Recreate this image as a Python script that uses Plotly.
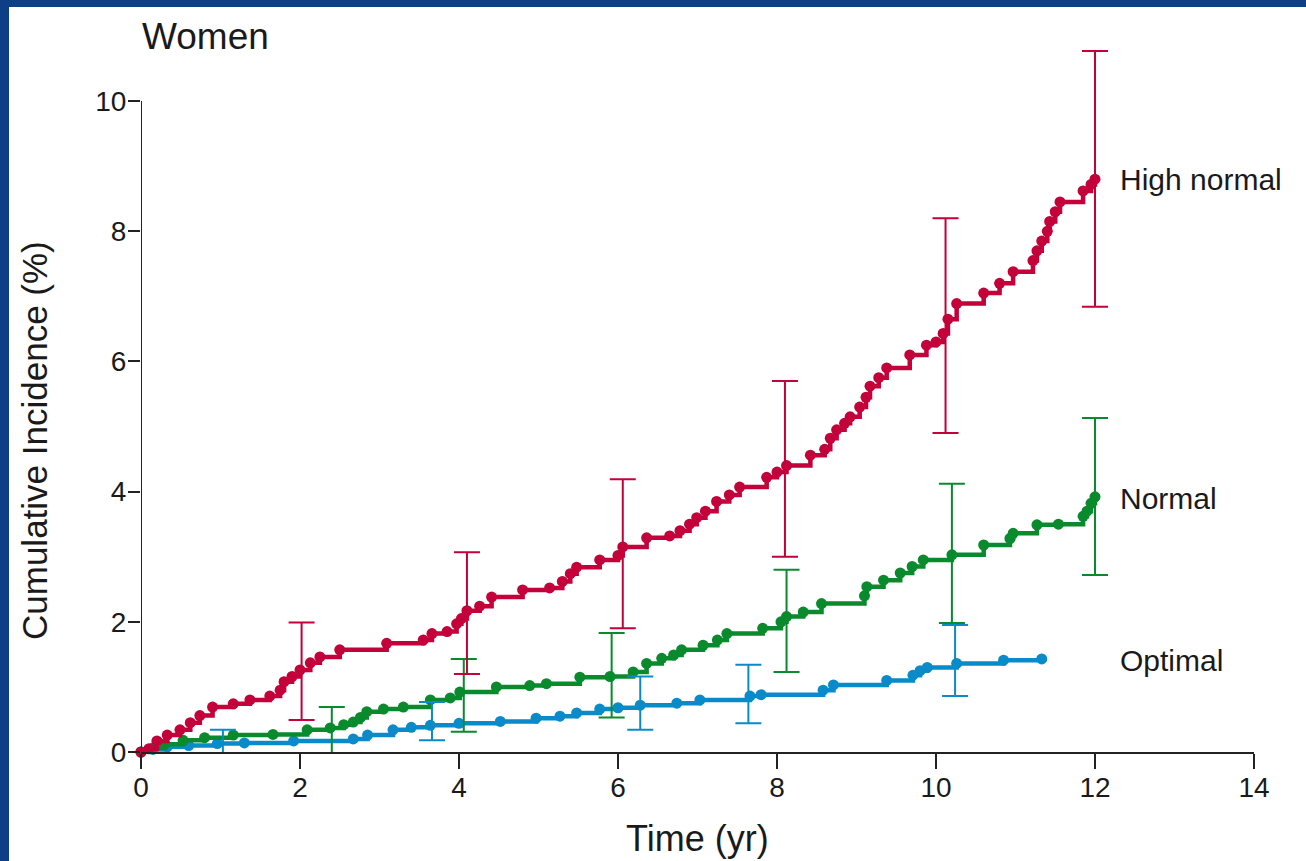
import plotly.graph_objects as go

# ---------------- data ----------------
x_ticks = [0, 2, 4, 6, 8, 10, 12, 14]
y_ticks = [0, 2, 4, 6, 8, 10]

hn_t = [0, 0.10, 0.20, 0.33, 0.49, 0.62, 0.74, 0.90, 1.16, 1.37,
        1.62, 1.75, 1.80, 1.90, 2.00, 2.13, 2.25, 2.50, 3.09, 3.55,
        3.66, 3.85, 3.97, 4.03, 4.10, 4.26, 4.41, 4.80, 5.14, 5.30,
        5.40, 5.48, 5.77, 6.00, 6.06, 6.36, 6.65, 6.78, 6.90, 6.99,
        7.10, 7.24, 7.40, 7.53, 7.87, 8.00, 8.12, 8.42, 8.60, 8.67,
        8.75, 8.85, 8.92, 9.04, 9.12, 9.17, 9.28, 9.38, 9.67, 9.88,
        10.00, 10.09, 10.15, 10.26, 10.60, 10.80, 10.97, 11.22, 11.27, 11.33,
        11.40, 11.43, 11.50, 11.56, 11.85, 11.95, 12.00]
hn_v = [0, 0.05, 0.17, 0.26, 0.34, 0.45, 0.56, 0.69, 0.74, 0.80,
        0.86, 0.95, 1.08, 1.16, 1.26, 1.37, 1.46, 1.57, 1.67, 1.72,
        1.82, 1.85, 1.97, 2.05, 2.17, 2.24, 2.38, 2.49, 2.52, 2.62,
        2.74, 2.84, 2.95, 3.02, 3.15, 3.29, 3.32, 3.40, 3.50, 3.60,
        3.70, 3.85, 3.95, 4.07, 4.22, 4.30, 4.40, 4.56, 4.65, 4.82,
        4.95, 5.05, 5.15, 5.30, 5.45, 5.62, 5.75, 5.90, 6.10, 6.25,
        6.30, 6.43, 6.65, 6.89, 7.05, 7.20, 7.38, 7.55, 7.70, 7.85,
        8.00, 8.15, 8.30, 8.45, 8.62, 8.72, 8.80]

nm_t = [0, 0.15, 0.30, 0.53, 0.80, 1.16, 1.66, 2.09, 2.38, 2.55,
        2.67, 2.76, 2.84, 3.05, 3.30, 3.64, 3.89, 4.01, 4.47, 4.89,
        5.10, 5.52, 5.90, 6.19, 6.36, 6.55, 6.70, 6.80, 7.07, 7.25,
        7.37, 7.82, 8.05, 8.12, 8.33, 8.56, 9.10, 9.13, 9.34, 9.55,
        9.70, 9.84, 10.20, 10.60, 10.93, 10.97, 11.27, 11.54, 11.85, 11.90,
        11.95, 12.00]
nm_v = [0, 0.06, 0.12, 0.18, 0.22, 0.26, 0.27, 0.34, 0.37, 0.42,
        0.46, 0.53, 0.62, 0.66, 0.69, 0.80, 0.83, 0.92, 1.00, 1.02,
        1.05, 1.15, 1.16, 1.23, 1.36, 1.44, 1.49, 1.57, 1.64, 1.72,
        1.82, 1.90, 2.00, 2.08, 2.15, 2.28, 2.40, 2.54, 2.64, 2.75,
        2.85, 2.95, 3.03, 3.18, 3.28, 3.36, 3.49, 3.50, 3.62, 3.70,
        3.82, 3.92]

op_t = [0, 0.15, 0.33, 0.60, 0.96, 1.30, 1.92, 2.67, 2.85, 3.17,
        3.40, 3.64, 4.00, 4.52, 4.97, 5.27, 5.48, 5.77, 6.00, 6.28,
        6.74, 7.03, 7.66, 7.80, 8.58, 8.71, 9.38, 9.71, 9.80, 9.89,
        10.26, 10.85, 11.33]
op_v = [0, 0.04, 0.08, 0.10, 0.13, 0.14, 0.17, 0.20, 0.26, 0.34,
        0.38, 0.41, 0.44, 0.47, 0.52, 0.55, 0.60, 0.66, 0.68, 0.72,
        0.75, 0.80, 0.86, 0.88, 0.95, 1.03, 1.10, 1.18, 1.25, 1.30,
        1.36, 1.41, 1.43]

# 95% confidence intervals
hn_ci_t = [2.02, 4.10, 6.06, 8.10, 10.12, 12.00]
hn_ci_lo = [0.49, 1.20, 1.90, 3.00, 4.90, 6.84]
hn_ci_hi = [1.99, 3.07, 4.19, 5.70, 8.20, 10.77]

nm_ci_t = [2.40, 4.06, 5.92, 8.12, 10.20, 12.00]
nm_ci_lo = [-0.10, 0.31, 0.53, 1.23, 1.98, 2.72]
nm_ci_hi = [0.69, 1.43, 1.83, 2.80, 4.12, 5.13]

op_ci_t = [1.03, 3.66, 6.28, 7.64, 10.24]
op_ci_lo = [-0.10, 0.18, 0.34, 0.44, 0.86]
op_ci_hi = [0.34, 0.77, 1.16, 1.34, 1.95]

series_names = ["High normal", "Normal", "Optimal"]
label_y = [8.79, 3.90, 1.40]

# ---------------- styling ----------------
RED = "#C3003A"
GREEN = "#088A2D"
BLUE = "#0A8BC9"
TXT = "#1a1a1a"
AX = "#222222"
FONT = "Liberation Sans, Arial, Helvetica, sans-serif"

W, H = 1306, 861
ML, MR, MT, MB = 141, 52, 36, 109
PW = W - ML - MR
PH = H - MT - MB


def px_x(p):
    return (p - ML) / PW


def px_y(p):
    return (H - MB - p) / PH


fig = go.Figure()

curves = [(op_t, op_v, BLUE), (nm_t, nm_v, GREEN), (hn_t, hn_v, RED)]
for t, v, c in curves:
    fig.add_trace(go.Scatter(
        x=t, y=v, mode="lines+markers",
        line=dict(shape="hv", width=4.5, color=c),
        marker=dict(size=11, color=c),
        cliponaxis=False, showlegend=False, hoverinfo="skip"))

cis = [(op_ci_t, op_ci_lo, op_ci_hi, BLUE),
       (nm_ci_t, nm_ci_lo, nm_ci_hi, GREEN),
       (hn_ci_t, hn_ci_lo, hn_ci_hi, RED)]
for t, lo, hi, c in cis:
    mid = [(a + b) / 2 for a, b in zip(lo, hi)]
    half = [(b - a) / 2 for a, b in zip(lo, hi)]
    fig.add_trace(go.Scatter(
        x=t, y=mid, mode="markers",
        marker=dict(size=1, color=c, opacity=0),
        error_y=dict(type="data", symmetric=True, array=half,
                     color=c, thickness=2, width=13),
        cliponaxis=True, showlegend=False, hoverinfo="skip"))

annotations = []
for name, yy in zip(series_names, label_y):
    annotations.append(dict(x=12.29, y=yy, xref="x", yref="y", text=name,
                            showarrow=False, xanchor="left", yanchor="middle",
                            font=dict(size=30, color=TXT, family=FONT)))
annotations.append(dict(x=px_x(140), y=px_y(36), xref="paper", yref="paper",
                        text="Women", showarrow=False, xanchor="left",
                        yanchor="middle", font=dict(size=37, color=TXT, family=FONT)))
annotations.append(dict(x=px_x(35), y=px_y(441), xref="paper", yref="paper",
                        text="Cumulative Incidence (%)", textangle=-90,
                        showarrow=False, xanchor="center", yanchor="middle",
                        font=dict(size=35, color=TXT, family=FONT)))
annotations.append(dict(x=px_x(697), y=px_y(838), xref="paper", yref="paper",
                        text="Time (yr)", showarrow=False, xanchor="center",
                        yanchor="middle", font=dict(size=36, color=TXT, family=FONT)))

shapes = [
    dict(type="rect", xref="paper", yref="paper",
         x0=px_x(9), x1=px_x(W + 5), y0=px_y(H + 5), y1=px_y(7),
         fillcolor="white", line=dict(width=0), layer="below"),
    dict(type="line", xref="x", yref="y", x0=0, x1=0, y0=0, y1=10,
         line=dict(color=AX, width=2), layer="above"),
]

fig.update_layout(
    width=W, height=H,
    margin=dict(l=ML, r=MR, t=MT, b=MB, pad=0),
    paper_bgcolor="#0c3f86", plot_bgcolor="white",
    font=dict(family=FONT, color=TXT),
    showlegend=False,
    annotations=annotations, shapes=shapes,
)
fig.update_xaxes(range=[0, 14], tickvals=x_ticks, ticktext=[str(v) for v in x_ticks],
                 ticks="outside", ticklen=15, tickwidth=2, tickcolor=AX,
                 showline=True, linewidth=2, linecolor=AX,
                 showgrid=False, zeroline=False, ticklabelstandoff=-6,
                 tickfont=dict(size=28, color=TXT, family=FONT))
fig.update_yaxes(range=[0, 11], tickvals=y_ticks, ticktext=[str(v) for v in y_ticks],
                 ticks="outside", ticklen=12, tickwidth=2, tickcolor=AX,
                 showline=False, showgrid=False, zeroline=False, ticklabelstandoff=-4,
                 tickfont=dict(size=28, color=TXT, family=FONT))

fig.write_html(
    "out.html",
    config={"displayModeBar": False},
    post_script="document.body.style.margin='0';document.body.style.padding='0';"
                "document.body.style.overflow='hidden';"
                "document.body.style.background='#0c3f86';",
)
